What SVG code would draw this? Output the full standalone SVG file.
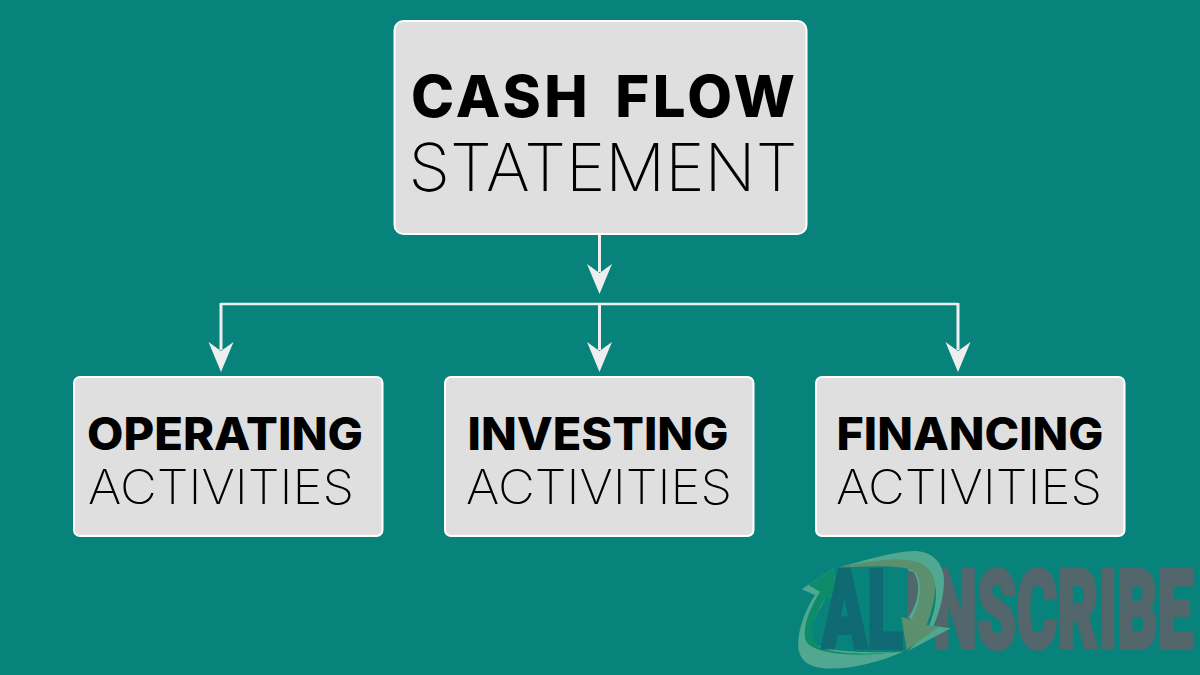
<svg xmlns="http://www.w3.org/2000/svg" width="1200" height="675" viewBox="0 0 1200 675">
<style>
.box{fill:#dfdfdf;stroke:#fff;stroke-width:2}
.b{font-family:"Inter","Liberation Sans",sans-serif;font-weight:800;fill:#000;text-anchor:middle}
.l{font-family:"Inter","Liberation Sans",sans-serif;font-weight:200;fill:#000;text-anchor:middle}
.c{fill:none;stroke:#eeeeee;stroke-width:2.4}
.a{fill:none;stroke:#eeeeee;stroke-width:3}
.h{fill:#eeeeee}
.w{font-family:"Roboto","Liberation Sans",sans-serif;font-weight:900;text-anchor:start;stroke-width:4;stroke-linejoin:miter}
</style>
<defs><path id="head" d="M-12.500 0L0 30L12.500 0L0 9Z"/></defs>
<rect width="1200" height="675" fill="#08837c"/>
<g id="connectors">
<path class="a" d="M599.500 235V272"/>
<use href="#head" class="h" x="599.500" y="264"/>
<path class="c" d="M221 304H958"/>
<path class="a" d="M221 303V350M599.500 304V350M958 303V350"/>
<use href="#head" class="h" x="221" y="342"/>
<use href="#head" class="h" x="599.500" y="342"/>
<use href="#head" class="h" x="958" y="342"/>
</g>
<g id="top"><rect class="box" x="394.500" y="21" width="412" height="213" rx="9"/>
<text class="b" x="603" y="117" font-size="58" textLength="384" lengthAdjust="spacing" word-spacing="8">CASH FLOW</text>
<text class="l" x="603" y="191" font-size="66" textLength="389" lengthAdjust="spacingAndGlyphs">STATEMENT</text></g>
<g id="operating"><rect class="box" x="74" y="377" width="308.500" height="159" rx="6"/>
<text class="b" x="225" y="450" font-size="45" textLength="276" lengthAdjust="spacingAndGlyphs">OPERATING</text>
<text class="l" x="221" y="503.500" font-size="48" textLength="266" lengthAdjust="spacingAndGlyphs">ACTIVITIES</text></g>
<g id="investing"><rect class="box" x="445" y="377" width="308.500" height="159" rx="6"/>
<text class="b" x="598" y="450" font-size="45" textLength="261" lengthAdjust="spacingAndGlyphs">INVESTING</text>
<text class="l" x="599" y="503.500" font-size="48" textLength="266" lengthAdjust="spacingAndGlyphs">ACTIVITIES</text></g>
<g id="financing"><rect class="box" x="816" y="377" width="308.500" height="159" rx="6"/>
<text class="b" x="970" y="450" font-size="45" textLength="267" lengthAdjust="spacingAndGlyphs">FINANCING</text>
<text class="l" x="969" y="503.500" font-size="48" textLength="266" lengthAdjust="spacingAndGlyphs">ACTIVITIES</text></g>
<g id="watermark">
<text class="w" transform="translate(933 648) scale(.57 1)" font-size="110" fill="#52666c" stroke="#52666c">NSCRIBE</text>
<g transform="translate(780 540) scale(.33333)">
<path fill="#4fa88f" d="M370 335C290 370 190 392 125 384C75 378 50 350 55 300C60 250 80 205 105 165L65 148L160 85L172 180L140 170C110 220 85 265 95 300C105 335 250 340 370 335Z"/>
<path fill="#0c8c68" d="M370 333C290 345 180 345 125 325C95 310 90 275 105 235C115 210 125 190 140 170L172 180L160 85L85 135L120 155C90 205 70 250 75 295C85 345 230 355 370 333Z"/>
<path fill="#4fa88f" d="M165 85C260 60 340 35 400 33C450 32 480 60 490 100C498 150 480 215 460 258L512 265L385 332L440 275C470 210 480 140 450 100C410 60 280 60 165 85Z"/>
<path fill="#52666c" d="M385 88H415C435 130 425 190 400 240H380Z"/>
<path fill="#4fa88f" d="M385 84H410C440 120 430 190 395 240L385 232C415 190 425 130 400 95L385 92Z"/>
<path fill="#5c8f6d" d="M170 85C260 62 350 50 410 65C450 78 468 110 465 150C462 190 452 225 440 255L475 262L380 330L364 230L395 240C420 190 432 130 405 95C380 75 270 75 170 85Z"/>
</g>
<text class="w" transform="translate(822 648) scale(.6 1)" font-size="110" fill="#0f6a73" stroke="#0f6a73">AL</text>
</g>
</svg>
